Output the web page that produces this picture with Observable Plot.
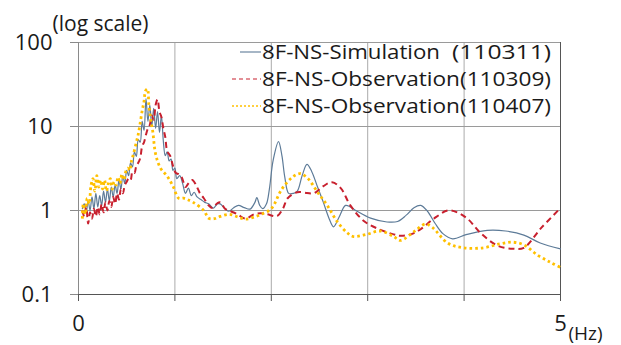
<!DOCTYPE html>
<html>
<head>
<meta charset="utf-8">
<script src="https://cdn.jsdelivr.net/npm/d3@7"></script>
<script src="https://cdn.jsdelivr.net/npm/@observablehq/plot@0.6"></script>
<style>
  body { margin: 0; background: #fff; }
  #chart { position: relative; width: 621px; height: 345px; }
  #chart svg { font-family: "Open Sans", sans-serif; }
</style>
</head>
<body>
<div id="chart"></div>
<script>
// Fourier amplitude spectra, 8th floor, NS direction
const simFreq = [0.04,0.06,0.08,0.10,0.12,0.14,0.16,0.18,0.20,0.22,0.24,0.26,0.28,0.30,0.32,0.34,0.36,0.38,0.40,0.42,0.44,0.46,0.48,0.50,0.52,0.54,0.56,0.58,0.60,0.62,0.64,0.66,0.68,0.70,0.72,0.74,0.76,0.78,0.80,0.82,0.84,0.86,0.88,0.90,0.92,0.94,0.96,0.98,1.00,1.02,1.05,1.08,1.11,1.14,1.17,1.20,1.23,1.27,1.31,1.35,1.40,1.44,1.47,1.52,1.56,1.61,1.66,1.72,1.78,1.83,1.85,1.88,1.91,1.95,1.98,2.02,2.075,2.11,2.14,2.18,2.23,2.27,2.32,2.37,2.42,2.48,2.54,2.60,2.645,2.70,2.77,2.82,2.89,3.03,3.20,3.31,3.40,3.48,3.55,3.62,3.70,3.78,3.88,4.03,4.24,4.43,4.62,4.79,5.00];
const simAmp = [1.05,1.2,0.95,1.3,1.0,1.45,1.05,1.6,1.1,1.5,1.15,1.7,1.25,1.8,1.3,1.9,1.45,2.0,1.6,2.3,1.8,2.6,2.1,3.0,2.6,3.7,3.3,5.0,4.4,7.0,6.5,11.5,9.0,21.5,11.5,18.0,10.0,16.5,9.5,15.0,8.5,13.5,6.7,4.5,5.0,3.9,4.1,3.0,3.2,2.4,2.6,2.1,1.6,1.85,1.5,1.65,1.45,1.35,1.25,1.2,1.07,1.2,1.2,1.05,0.98,1.08,1.15,1.08,1.04,1.25,1.42,1.15,1.05,1.2,1.8,4.0,6.6,4.5,2.5,1.6,1.6,1.7,2.6,3.55,2.9,1.9,1.25,0.8,0.64,0.82,1.15,1.1,0.98,0.81,0.73,0.74,0.88,1.08,1.15,0.98,0.7,0.53,0.46,0.52,0.58,0.57,0.51,0.41,0.35];

const obs309Freq = [0.04,0.06,0.08,0.10,0.12,0.14,0.16,0.18,0.20,0.22,0.24,0.26,0.28,0.30,0.32,0.34,0.36,0.38,0.40,0.42,0.44,0.46,0.48,0.50,0.52,0.54,0.56,0.58,0.60,0.62,0.64,0.66,0.68,0.70,0.72,0.74,0.76,0.78,0.80,0.82,0.84,0.86,0.88,0.90,0.92,0.95,0.98,1.01,1.04,1.07,1.11,1.14,1.18,1.22,1.26,1.30,1.35,1.39,1.44,1.47,1.52,1.56,1.65,1.73,1.82,1.89,1.96,2.06,2.12,2.17,2.27,2.37,2.44,2.54,2.63,2.72,2.82,2.96,3.10,3.27,3.34,3.45,3.55,3.68,3.83,3.93,4.04,4.17,4.35,4.51,4.62,4.80,5.00];
const obs309Amp = [1.0,0.85,1.1,0.7,0.95,0.8,1.05,0.85,1.1,0.9,1.2,0.95,1.25,1.0,1.3,1.1,1.45,1.2,1.6,1.35,1.8,1.6,2.0,2.2,2.4,2.3,2.9,2.8,3.4,3.7,4.2,5.8,6.5,8.0,9.5,10.5,13.5,12.0,18.0,21.0,15.0,13.0,9.5,7.5,5.1,4.5,3.4,2.8,2.7,2.5,1.9,2.1,2.3,2.0,1.6,1.4,1.15,1.07,1.22,1.25,1.05,1.0,0.9,0.8,0.9,0.93,0.9,0.86,1.05,1.4,1.65,1.62,1.6,1.95,2.17,1.85,1.15,0.75,0.61,0.52,0.5,0.52,0.6,0.79,1.0,0.95,0.79,0.54,0.38,0.35,0.36,0.62,1.07];

const obs407Freq = [0.04,0.05,0.07,0.09,0.11,0.13,0.15,0.17,0.19,0.21,0.23,0.25,0.27,0.29,0.31,0.33,0.35,0.37,0.39,0.41,0.43,0.45,0.47,0.49,0.51,0.53,0.55,0.57,0.60,0.62,0.64,0.66,0.68,0.695,0.715,0.73,0.75,0.77,0.80,0.85,0.92,0.98,1.04,1.09,1.13,1.19,1.30,1.35,1.41,1.47,1.56,1.65,1.73,1.84,1.92,2.00,2.11,2.22,2.30,2.38,2.48,2.58,2.69,2.79,2.85,2.99,3.13,3.27,3.34,3.48,3.60,3.67,3.83,3.99,4.20,4.37,4.50,4.62,4.77,4.90,5.00];
const obs407Amp = [0.8,1.2,0.9,1.4,1.2,2.0,2.4,1.7,2.6,1.9,2.3,1.8,2.3,1.7,2.1,2.4,1.8,2.2,2.0,2.5,2.1,2.7,2.3,2.9,3.2,3.0,3.9,4.7,6.5,8.1,11.0,15.3,20.0,26.5,28.0,18.0,12.0,8.8,4.7,3.2,2.56,1.95,1.4,1.4,1.35,1.25,1.0,0.81,0.8,0.85,0.9,0.84,0.79,0.85,0.93,1.05,1.8,2.5,2.75,2.4,1.65,1.15,0.72,0.54,0.49,0.52,0.57,0.49,0.44,0.56,0.69,0.63,0.41,0.36,0.36,0.40,0.42,0.39,0.29,0.24,0.21];

const seriesNames = ["8F-NS-Simulation", "8F-NS-Observation", "8F-NS-Observation"];
const seriesDates = ["(110311)", "(110309)", "(110407)"];
const seriesColors = ["#5d7b98", "#c8202e", "#ffc000"];
const yTicks = [0.1, 1, 10, 100];
const xTicks = [0, 1, 2, 3, 4, 5];

const toRows = (freq, amp) => freq.map((f, i) => ({f, a: amp[i]}));
const sim = toRows(simFreq, simAmp);
const obs309 = toRows(obs309Freq, obs309Amp);
const obs407 = toRows(obs407Freq, obs407Amp);

const chart = Plot.plot({
  width: 621,
  height: 345,
  marginLeft: 78,
  marginRight: 61,
  marginTop: 42,
  marginBottom: 51,
  x: {domain: [0, 5], axis: null},
  y: {type: "log", domain: [0.1, 100], axis: null},
  style: {fontFamily: "Open Sans, sans-serif", background: "#fff"},
  marks: [
    Plot.gridX([1, 2, 3, 4], {stroke: "#ababab", strokeOpacity: 1}),
    Plot.gridY([1, 10, 100], {stroke: "#9a9a9a", strokeOpacity: 1}),
    Plot.ruleX([0], {stroke: "#8a8a8a"}),
    Plot.ruleX([5], {stroke: "#555"}),
    Plot.ruleY([0.1], {stroke: "#555"}),
    Plot.axisY({ticks: yTicks, tickFormat: d => String(d), tickSize: 8, tickPadding: 18,
      fontSize: 22, stroke: "#8a8a8a", fill: "#1a1a1a", label: null}),
    Plot.axisX({ticks: xTicks, tickFormat: d => (d === 0 || d === 5) ? String(d) : "",
      tickSize: 7, tickPadding: 14, fontSize: 22, stroke: "#555", fill: "#1a1a1a", label: null}),
    Plot.line(sim, {x: "f", y: "a", stroke: seriesColors[0], strokeWidth: 1.2, curve: "catmull-rom"}),
    Plot.line(obs309, {x: "f", y: "a", stroke: seriesColors[1], strokeWidth: 2, strokeDasharray: "6,4",
      strokeLinecap: "butt", curve: "catmull-rom"}),
    Plot.line(obs407, {x: "f", y: "a", stroke: seriesColors[2], strokeWidth: 2.8, strokeDasharray: "2.6,3",
      strokeLinecap: "butt", curve: "catmull-rom"}),
    Plot.text(["(log scale)"], {frameAnchor: "top-left", dx: -26, dy: -18, textAnchor: "start",
      lineAnchor: "middle", fontSize: 21, fill: "#1a1a1a"}),
    Plot.text(["(Hz)"], {frameAnchor: "bottom-right", dx: 8, dy: 39, textAnchor: "start",
      lineAnchor: "middle", fontSize: 19, fill: "#1a1a1a"})
  ]
});

document.getElementById("chart").appendChild(chart);

// Legend drawn in the upper right of the plot area
const svg = d3.select(chart);
const legend = svg.append("g")
  .attr("font-family", "Open Sans, sans-serif")
  .attr("font-size", 20)
  .attr("fill", "#1a1a1a")
  .attr("text-anchor", "start");
const rowY = [52, 79, 106];
const dashes = [null, "4,3", "2,2"];
const sampleStart = [240, 232, 232];
seriesNames.forEach((name, i) => {
  const line = legend.append("line")
    .attr("x1", sampleStart[i]).attr("x2", 261)
    .attr("y1", rowY[i]).attr("y2", rowY[i])
    .attr("stroke", seriesColors[i]).attr("stroke-width", i === 2 ? 1.6 : 1.1);
  if (dashes[i]) line.attr("stroke-dasharray", dashes[i]);
  if (i === 0) {
    // name and date set apart, date ending flush with the rows below
    legend.append("text").attr("x", 262).attr("y", rowY[i]).attr("dy", "0.35em")
      .attr("textLength", 178).attr("lengthAdjust", "spacingAndGlyphs").text(name);
    legend.append("text").attr("x", 452).attr("y", rowY[i]).attr("dy", "0.35em")
      .attr("textLength", 99).attr("lengthAdjust", "spacingAndGlyphs").text(seriesDates[i]);
  } else {
    legend.append("text").attr("x", 262).attr("y", rowY[i]).attr("dy", "0.35em")
      .attr("textLength", 289).attr("lengthAdjust", "spacingAndGlyphs").text(name + seriesDates[i]);
  }
});
</script>
</body>
</html>
